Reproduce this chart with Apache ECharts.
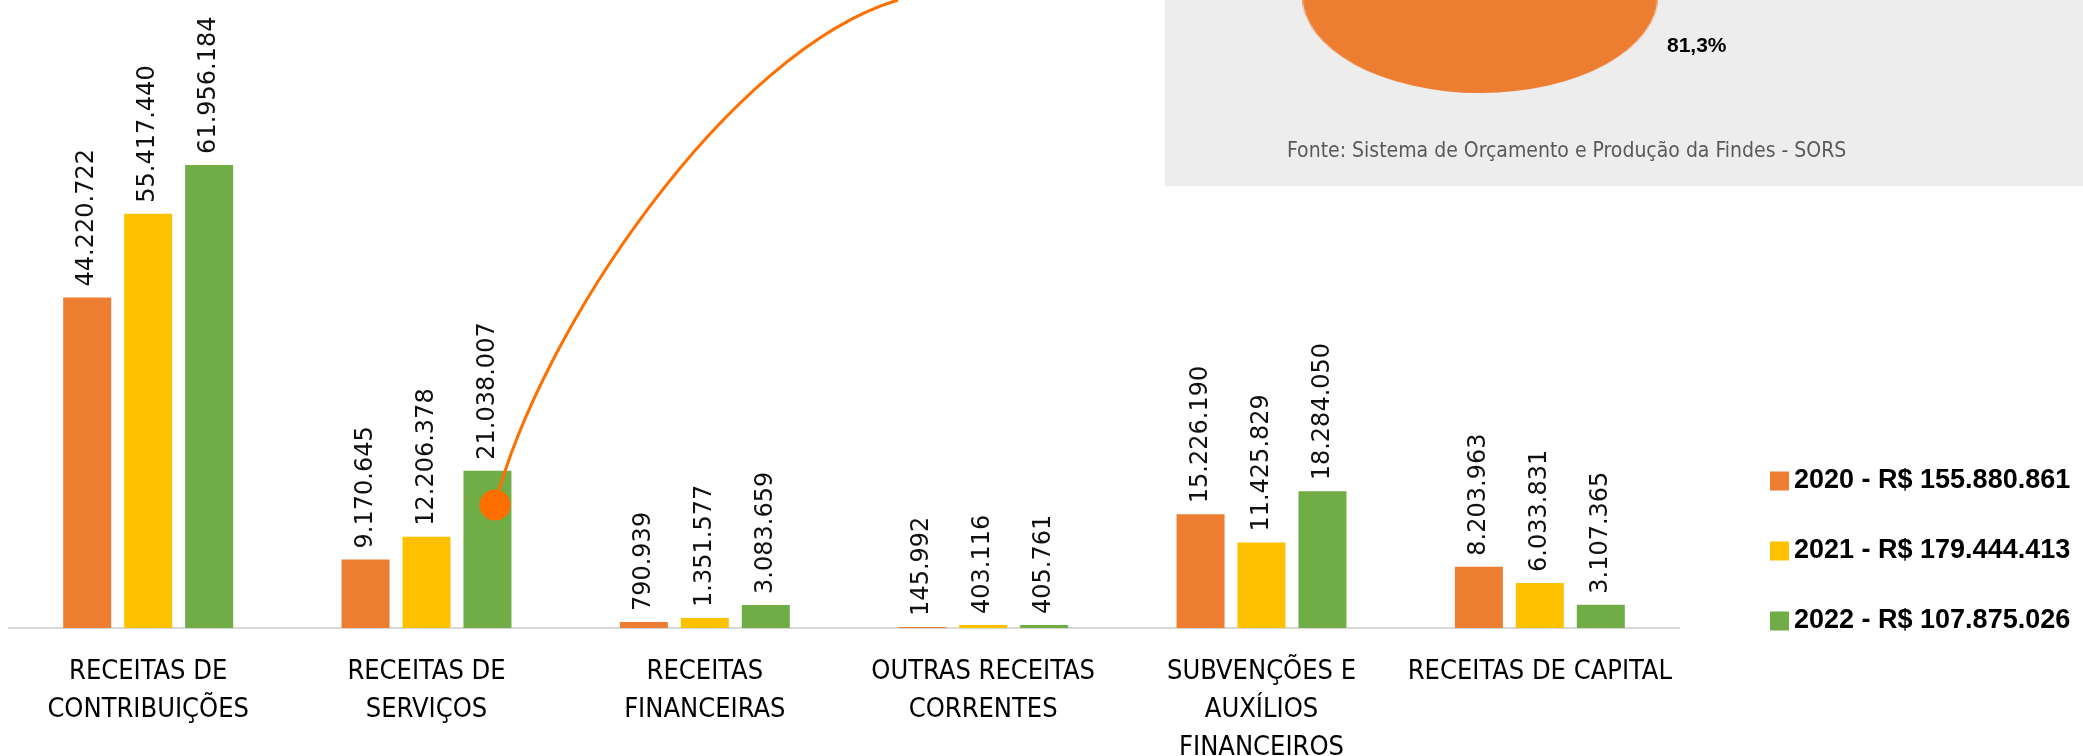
<!DOCTYPE html>
<html>
<head>
<meta charset="utf-8">
<script src="https://cdn.jsdelivr.net/npm/echarts@6/dist/echarts.min.js"></script>
<style>
html, body { margin: 0; padding: 0; background: #fff; overflow: hidden; }
#wrap { position: relative; width: 2083px; height: 756px; overflow: hidden; }
#container { position: absolute; left: 0; top: 0; width: 2083px; height: 756px; }
#pie { position: absolute; left: 1382px; top: -103px; width: 196px; height: 196px; transform: scaleX(1.816); transform-origin: 50% 50%; }
</style>
</head>
<body>
<div id="wrap"><div id="container"></div><div id="pie"></div></div>
<script>
var categorias = [
    'RECEITAS DE\nCONTRIBUIÇÕES',
    'RECEITAS DE\nSERVIÇOS',
    'RECEITAS\nFINANCEIRAS',
    'OUTRAS RECEITAS\nCORRENTES',
    'SUBVENÇÕES E\nAUXÍLIOS\nFINANCEIROS',
    'RECEITAS DE CAPITAL'
];
var anos = ['2020', '2021', '2022'];
var totais = ['155.880.861', '179.444.413', '107.875.026'];
var valores2020 = [44220722, 9170645, 790939, 145992, 15226190, 8203963];
var valores2021 = [55417440, 12206378, 1351577, 403116, 11425829, 6033831];
var valores2022 = [61956184, 21038007, 3083659, 405761, 18284050, 3107365];
var cores = ['#ed7d31', '#ffc000', '#70ad47'];

var pizzaNomes = ['Demais', 'Participação'];
var pizzaValores = [18.7, 81.3];
var pizzaCores = ['#a5a5a5', '#ed7d31'];

var fonte = 'Fonte: Sistema de Orçamento e Produção da Findes - SORS';
var fonteCondensada = '"DejaVu Sans Condensed", "DejaVu Sans", sans-serif';

function fmt(v) {
    return String(v).replace(/\B(?=(\d{3})+(?!\d))/g, '.');
}

var valores = [valores2020, valores2021, valores2022];
var series = [];
for (var i = 0; i < anos.length; i++) {
    series.push({
        name: anos[i],
        type: 'bar',
        barWidth: 48,
        barGap: '27%',
        itemStyle: {color: cores[i]},
        label: {
            show: true,
            position: 'top',
            distance: 11,
            rotate: 90,
            align: 'left',
            verticalAlign: 'middle',
            fontFamily: 'DejaVu Sans',
            fontSize: 24,
            color: '#111',
            formatter: function (p) { return fmt(p.value); }
        },
        data: valores[i]
    });
}

var myChart = echarts.init(document.getElementById('container'));
var option = {
    animation: false,
    backgroundColor: 'transparent',
    grid: {left: 9, width: 1670, top: 30, bottom: 128, outerBoundsMode: 'none', containLabel: false},
    legend: {
        orient: 'vertical',
        left: 1765,
        top: 462,
        itemWidth: 19,
        itemHeight: 19,
        itemGap: 42,
        icon: 'rect',
        data: anos,
        textStyle: {
            fontFamily: 'Liberation Sans',
            fontWeight: 'bold',
            fontSize: 27,
            lineHeight: 28,
            color: '#000'
        },
        formatter: function (name) {
            return name + ' - R$ ' + totais[anos.indexOf(name)];
        }
    },
    xAxis: {
        type: 'category',
        data: categorias,
        axisLine: {lineStyle: {color: '#d9d9d9', width: 2}},
        axisTick: {show: false},
        axisLabel: {
            interval: 0,
            margin: 25,
            fontFamily: fonteCondensada,
            fontSize: 27,
            lineHeight: 38,
            color: '#000'
        }
    },
    yAxis: {
        type: 'value',
        min: 0,
        max: 80000000,
        show: false,
        splitLine: {show: false}
    },
    graphic: [
        {
            type: 'rect',
            z: 0,
            shape: {x: 1165, y: 0, width: 918, height: 186},
            style: {fill: '#ededed'}
        },
        {
            type: 'text',
            z: 1,
            x: 1287,
            y: 152,
            style: {
                text: fonte,
                fontFamily: fonteCondensada,
                fontSize: 21,
                fill: '#595959',
                verticalAlign: 'middle'
            }
        },
        {
            type: 'text',
            z: 5,
            x: 1667,
            y: 46,
            style: {
                text: String(pizzaValores[1]).replace('.', ',') + '%',
                fontFamily: 'Liberation Sans',
                fontWeight: 'bold',
                fontSize: 21,
                fill: '#000',
                verticalAlign: 'middle'
            }
        },
        {
            type: 'bezierCurve',
            z: 20,
            shape: {x1: 495, y1: 505, cpx1: 540, cpy1: 330, cpx2: 730, cpy2: 50, x2: 898, y2: 0},
            style: {stroke: '#ff6f00', lineWidth: 3, fill: null}
        },
        {
            type: 'circle',
            z: 21,
            shape: {cx: 495, cy: 505, r: 15.5},
            style: {fill: '#ff6f00'}
        }
    ],
    series: series
};
myChart.setOption(option);

var pieChart = echarts.init(document.getElementById('pie'));
var pieData = [];
for (var j = 0; j < pizzaValores.length; j++) {
    pieData.push({name: pizzaNomes[j], value: pizzaValores[j], itemStyle: {color: pizzaCores[j]}});
}
pieChart.setOption({
    animation: false,
    series: [{
        type: 'pie',
        center: ['50%', '50%'],
        radius: 98,
        startAngle: 90 + pizzaValores[0] * 3.6 / 2,
        label: {show: false},
        labelLine: {show: false},
        itemStyle: {borderWidth: 0},
        data: pieData
    }]
});
</script>
</body>
</html>
